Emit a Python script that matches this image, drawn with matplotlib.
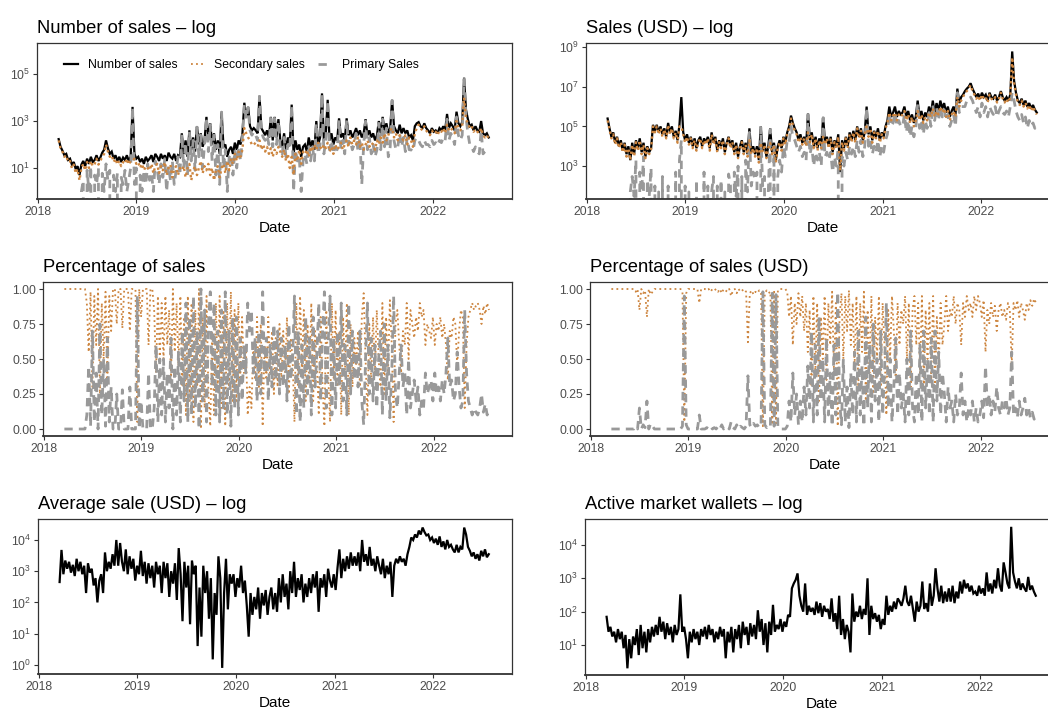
import matplotlib
matplotlib.use('Agg')
import matplotlib.pyplot as plt
import matplotlib.dates as mdates
from matplotlib.lines import Line2D
from matplotlib.ticker import FixedLocator, FuncFormatter, NullLocator
import numpy as np
import pandas as pd

# colours (ggplot-like)
BLACK = '#000000'
ORANGE = '#CD853F'
GREY = '#999999'
TICKCOL = '#4D4D4D'
EDGE = '#333333'

START = '2018-03-20'   # first weekly observation, one value per week

# ---- Number of sales (weekly readings, one row ~ one quarter) ----
n_sales = [
    170, 80, 55, 35, 40, 22, 25, 14, 18, 9, 12, 5, 14,
    20, 12, 25, 15, 30, 18, 22, 35, 20, 28, 45, 60, 150,
    70, 40, 50, 25, 35, 20, 30, 18, 28, 22, 35, 20, 30,
    4000, 40, 25, 30, 18, 25, 15, 30, 20, 25, 35, 18, 40,
    30, 20, 40, 25, 35, 20, 45, 30, 25, 40, 20, 35, 30,
    300, 40, 150, 30, 400, 60, 200, 50, 600, 100, 300, 80, 150,
    1500, 200, 800, 100, 300, 60, 150, 40, 2500, 80, 100, 30, 60,
    80, 40, 120, 60, 150, 100, 300, 6000, 1500, 4000, 600, 400, 500,
    400, 300, 12000, 500, 350, 250, 400, 200, 1500, 150, 1500, 200, 1200,
    150, 80, 300, 60, 200, 100, 5000, 40, 150, 60, 100, 30, 80,
    100, 50, 200, 80, 150, 60, 1000, 100, 200, 15000, 150, 300, 8000,
    150, 300, 100, 200, 150, 1300, 200, 300, 150, 1300, 250, 400, 200,
    300, 500, 250, 400, 200, 300, 1200, 250, 400, 200, 300, 150, 250,
    1000, 300, 1500, 400, 800, 300, 500, 8000, 600, 400, 300, 700, 300,
    500, 300, 400, 200, 250, 150, 600, 800, 900, 600, 500, 800, 500,
    400, 300, 500, 350, 400, 300, 500, 400, 600, 400, 2000, 500, 800,
    600, 400, 2500, 800, 600, 900, 70000, 3000, 1200, 600, 700, 400, 600,
    400, 350, 1000, 300, 250, 300, 200,
]
n_secondary = [
    150, 70, 50, 30, 35, 18, 20, 10, 14, 6, 9, 3, 10,
    15, 8, 18, 10, 20, 12, 15, 25, 14, 20, 30, 40, 100,
    50, 30, 35, 18, 25, 14, 20, 12, 18, 15, 25, 14, 20,
    20, 25, 15, 18, 10, 15, 8, 12, 10, 8, 15, 6, 12,
    15, 6, 12, 8, 18, 5, 10, 14, 4, 9, 12, 5, 10,
    8, 12, 4, 10, 15, 3, 8, 12, 5, 10, 20, 6, 12,
    8, 15, 5, 10, 3, 8, 12, 4, 10, 15, 6, 20, 8,
    25, 15, 40, 20, 50, 30, 60, 500, 300, 200, 150, 100, 120,
    100, 80, 150, 60, 100, 50, 80, 40, 70, 30, 60, 40, 80,
    50, 30, 60, 20, 40, 10, 30, 5, 40, 20, 60, 15, 50,
    40, 60, 30, 80, 50, 100, 60, 120, 80, 60, 100, 70, 120,
    50, 80, 40, 100, 60, 80, 120, 60, 100, 150, 80, 200, 100,
    150, 100, 200, 80, 120, 60, 100, 150, 80, 120, 100, 60, 150,
    100, 200, 120, 300, 150, 250, 400, 500, 200, 300, 150, 250, 200,
    150, 250, 100, 200, 150, 80, 300, 500, 700, 500, 400, 600, 400,
    300, 250, 400, 300, 350, 250, 400, 350, 500, 300, 700, 400, 500,
    400, 300, 1000, 500, 400, 600, 10000, 1200, 800, 500, 600, 350, 450,
    350, 300, 500, 250, 200, 250, 180,
]
n_primary = [
    0, 0, 0, 0, 0, 0, 0, 0, 0, 0, 0, 0, 1,
    3, 0, 8, 1, 12, 0, 5, 2, 10, 0, 6, 1, 15,
    3, 8, 0, 5, 1, 6, 0, 4, 2, 8, 1, 3, 10,
    4000, 2, 10, 0, 5, 1, 8, 2, 15, 3, 6, 1, 20,
    10, 2, 15, 4, 25, 1, 12, 3, 20, 2, 8, 30, 5,
    280, 10, 120, 5, 350, 20, 150, 8, 550, 30, 250, 10, 100,
    1400, 50, 700, 20, 250, 5, 100, 2, 2400, 10, 60, 1, 30,
    40, 5, 60, 10, 80, 20, 200, 5000, 1200, 3800, 400, 250, 350,
    250, 150, 11000, 350, 200, 150, 250, 100, 1300, 80, 1300, 100, 1000,
    60, 40, 200, 30, 100, 60, 4800, 1, 60, 20, 30, 1, 20,
    40, 15, 100, 20, 80, 20, 800, 40, 100, 14000, 40, 150, 7500,
    60, 150, 40, 80, 60, 1100, 60, 150, 40, 1100, 100, 150, 60,
    100, 300, 50, 200, 2, 100, 1000, 60, 200, 40, 100, 30, 60,
    800, 60, 1200, 80, 500, 30, 80, 7500, 150, 60, 80, 300, 80,
    200, 50, 200, 60, 60, 50, 150, 200, 150, 100, 80, 150, 100,
    100, 80, 150, 100, 120, 90, 150, 120, 200, 150, 1200, 150, 300,
    200, 100, 1500, 250, 150, 250, 60000, 1500, 300, 100, 80, 50, 80,
    50, 40, 400, 40, 50, 40, 35,
]

# ---- Sales in USD ----
usd_sales = [
    2.5e5, 8e4, 3e4, 5e4, 1.5e4, 3e4, 1e4, 2e4, 6e3, 1.5e4, 4e3, 1e4, 2e3,
    1.5e4, 4e3, 2e4, 8e3, 2.5e4, 5e3, 1.5e4, 3e3, 1e4, 5e3, 8e3, 1.2e5, 6e4,
    1.2e5, 5e4, 1e5, 4e4, 8e4, 3e4, 1.5e5, 5e4, 1e5, 3e4, 6e4, 2e4, 1.2e5,
    3e6, 5e4, 2e4, 4e4, 1.5e4, 3e4, 1e4, 2.5e4, 8e3, 2e4, 3e4, 1e4, 2.5e4,
    1.5e4, 3e4, 8e3, 5e4, 1.5e4, 3e4, 6e3, 2e4, 1e4, 2.5e4, 5e3, 1.5e4, 3e4,
    1e4, 2e4, 5e3, 1.5e4, 3e3, 1e4, 2e4, 5e3, 1.5e4, 4e3, 8e4, 5e3, 1e4,
    4e3, 1e4, 2e3, 1e5, 6e3, 1.5e4, 3e3, 1e4, 8e4, 5e3, 1.5e4, 2e3, 1e4,
    2e4, 8e3, 3e4, 1.5e4, 5e4, 1e5, 3.5e5, 1.5e5, 8e4, 5e4, 2e4, 4e4, 1.5e4,
    3e4, 1.2e4, 4.5e5, 2e4, 5e4, 1e4, 3e4, 8e3, 2.5e4, 1e4, 3e5, 1.5e4, 3e4,
    1e4, 3e4, 5e3, 2e4, 1e4, 4e4, 5e2, 2e4, 8e3, 3e4, 1e4, 5e4, 2e4,
    6e4, 2e4, 1e5, 3e4, 8e4, 2e4, 5e4, 1e6, 4e4, 1e5, 2e4, 6e4, 3e4,
    8e4, 2e4, 5e4, 3e4, 1e5, 2e5, 1e6, 3e5, 5e5, 1e6, 3e5, 6e5, 4e5,
    5e5, 1e6, 3e5, 6e5, 2e5, 4e5, 1.5e5, 3e5, 2e6, 3e5, 6e5, 2e5, 5e5,
    3e5, 1e6, 4e5, 2e6, 5e5, 1.5e6, 6e5, 2e6, 8e5, 1.5e6, 5e5, 1e6, 3e5,
    6e5, 1e6, 4e5, 8e6, 1.5e6, 3e6, 4e6, 6e6, 8e6, 1e7, 1.5e7, 8e6, 5e6,
    3e6, 4.5e6, 2.5e6, 5e6, 3e6, 4e6, 2e6, 5e6, 3e6, 2.5e6, 4e6, 2e6, 3e6,
    6e6, 3e6, 2e6, 3e6, 2e6, 4e6, 6e8, 2e7, 5e6, 2e6, 1.5e6, 2.5e6, 1.2e6,
    2e6, 1e6, 1.5e6, 8e5, 1.2e6, 7e5, 5e5,
]
usd_secondary = [
    2e5, 7e4, 2.5e4, 4e4, 1.2e4, 2.5e4, 8e3, 1.6e4, 5e3, 1.2e4, 3e3, 8e3, 2e3,
    1.2e4, 3e3, 1.6e4, 6e3, 2e4, 4e3, 1.2e4, 2.5e3, 8e3, 4e3, 7e3, 1e5, 5e4,
    1e5, 4e4, 8e4, 3e4, 7e4, 2.5e4, 1.2e5, 4e4, 8e4, 2.5e4, 5e4, 1.5e4, 1e5,
    1e5, 4e4, 1.5e4, 3e4, 1.2e4, 2.5e4, 8e3, 2e4, 6e3, 1.6e4, 2.5e4, 8e3, 2e4,
    1.2e4, 2.5e4, 6e3, 4e4, 1.2e4, 2.5e4, 5e3, 1.6e4, 8e3, 2e4, 4e3, 1.2e4, 2.5e4,
    8e3, 1.6e4, 4e3, 1.2e4, 2.5e3, 8e3, 1.6e4, 4e3, 1.2e4, 3e3, 2e4, 4e3, 8e3,
    3e3, 8e3, 1.5e3, 1.5e4, 5e3, 1.2e4, 2.5e3, 8e3, 1.5e4, 4e3, 1.2e4, 1.5e3, 8e3,
    1.6e4, 6e3, 2.5e4, 1.2e4, 4e4, 8e4, 2.5e5, 1.2e5, 6e4, 4e4, 1.5e4, 3e4, 1.2e4,
    2.5e4, 1e4, 5e4, 1.6e4, 4e4, 8e3, 2.5e4, 6e3, 2e4, 8e3, 3e4, 1.2e4, 2.5e4,
    8e3, 2.5e4, 4e3, 1.6e4, 8e3, 3e4, 6e2, 1.6e4, 6e3, 2.5e4, 8e3, 4e4, 1.6e4,
    5e4, 1.5e4, 8e4, 2.5e4, 6e4, 1.5e4, 4e4, 1e5, 3e4, 8e4, 1.5e4, 5e4, 2.5e4,
    6e4, 1.5e4, 4e4, 2.5e4, 8e4, 1.5e5, 5e5, 2e5, 3.5e5, 5e5, 2e5, 4e5, 3e5,
    4e5, 6e5, 2e5, 4e5, 1.5e5, 3e5, 1e5, 2e5, 6e5, 2e5, 4e5, 1.5e5, 3e5,
    2e5, 5e5, 3e5, 8e5, 3e5, 6e5, 4e5, 1e6, 5e5, 8e5, 3e5, 6e5, 2e5,
    4e5, 6e5, 3e5, 3e6, 1e6, 2e6, 3e6, 5e6, 6e6, 8e6, 1.2e7, 6e6, 4e6,
    2.5e6, 3.5e6, 2e6, 4e6, 2.5e6, 3e6, 1.6e6, 4e6, 2.5e6, 2e6, 3e6, 1.6e6, 2.5e6,
    5e6, 2.5e6, 1.6e6, 2.5e6, 1.6e6, 3e6, 3e8, 1.5e7, 4e6, 1.6e6, 1.2e6, 2e6, 1e6,
    1.6e6, 8e5, 1.2e6, 6e5, 1e6, 6e5, 4e5,
]
usd_primary = [
    0, 0, 0, 0, 0, 0, 0, 0, 0, 0, 0, 0, 50,
    300, 30, 2000, 0, 500, 50, 3000, 0, 200, 30, 800, 0, 100,
    0, 50, 0, 300, 0, 0, 100, 0, 30, 0, 500, 0, 2000,
    2e4, 0, 100, 0, 50, 0, 0, 0, 200, 0, 30, 0, 500,
    0, 100, 0, 50, 300, 0, 100, 0, 200, 0, 50, 0, 400,
    100, 0, 500, 30, 1000, 0, 300, 0, 2000, 50, 5e4, 100, 500,
    200, 500, 0, 9e4, 100, 300, 0, 50, 7e4, 0, 1e4, 0, 300,
    2e3, 500, 1e4, 3e3, 2e4, 1.5e4, 1e5, 3e4, 2e4, 1e4, 5e3, 1e4, 3e3,
    5e3, 2e3, 4e5, 4e3, 1e4, 1e3, 5e3, 2e3, 5e3, 1e3, 2.7e5, 3e3, 5e3,
    2e3, 5e3, 500, 3e3, 1e3, 8e3, 0, 3e3, 1e3, 5e3, 2e3, 1e4, 4e3,
    1e4, 3e3, 2e4, 5e3, 2e4, 3e3, 1e4, 9e5, 1e4, 2e4, 4e3, 1e4, 5e3,
    2e4, 3e3, 1e4, 5e3, 2e4, 4e4, 5e5, 1e5, 1.5e5, 5e5, 1e5, 2e5, 1e5,
    1e5, 4e5, 5e4, 2e5, 3e4, 1e5, 3e4, 8e4, 1.4e6, 8e4, 2e5, 4e4, 2e5,
    8e4, 5e5, 1e5, 1.2e6, 2e5, 9e5, 2e5, 1e6, 3e5, 7e5, 2e5, 4e5, 1e5,
    2e5, 4e5, 1e5, 5e6, 5e5, 1e6, 1e6, 1e6, 2e6, 2e6, 3e6, 2e6, 1e6,
    5e5, 1e6, 3e5, 1.5e6, 5e5, 1e6, 3e5, 1e6, 6e5, 4e5, 1e6, 3e5, 6e5,
    1e6, 5e5, 4e5, 6e5, 3e5, 1e6, 5e6, 2e6, 6e5, 3e5, 2e5, 4e5, 1.5e5,
    3e5, 8e4, 2e5, 1e5, 1.5e5, 8e4, 1e5,
]

# ---- Share of secondary sales (count and USD) ----
share_secondary = [
    1, 1, 1, 1, 1, 1, 1, 1, 1, 1, 1, 1, 0.9,
    0.55, 0.98, 0.3, 0.95, 0.6, 1.0, 0.25, 0.9, 0.5, 0.98, 0.35, 0.95, 0.7,
    1, 1, 0.75, 1, 1, 0.72, 1, 1, 1, 0.7, 1, 1, 1,
    0.05, 1, 0.8, 1, 1, 1, 0.6, 1, 1, 0.85, 0.4, 0.95, 0.5,
    0.9, 0.5, 0.95, 0.6, 0.85, 0.35, 1.0, 0.55, 0.9, 0.45, 0.95, 0.3, 0.8,
    0.1, 0.95, 0.2, 0.9, 0.05, 0.85, 0.3, 1.0, 0.0, 0.8, 0.15, 0.95, 0.25,
    0.02, 0.7, 0.1, 0.9, 0.3, 0.95, 0.15, 0.85, 0.02, 0.9, 0.3, 0.98, 0.2,
    0.85, 0.2, 0.9, 0.35, 0.8, 0.4, 0.6, 0.1, 0.3, 0.15, 0.6, 0.35, 0.8,
    0.3, 0.75, 0.02, 0.6, 0.35, 0.8, 0.4, 0.7, 0.25, 0.65, 0.3, 0.75, 0.35,
    0.7, 0.4, 0.8, 0.25, 0.65, 0.5, 0.05, 0.9, 0.3, 0.95, 0.4, 0.85, 0.2,
    0.75, 0.35, 0.9, 0.2, 0.7, 0.45, 0.1, 0.8, 0.3, 0.02, 0.85, 0.4, 0.05,
    0.9, 0.35, 0.85, 0.3, 0.7, 0.1, 0.8, 0.4, 0.9, 0.1, 0.75, 0.3, 0.65,
    0.45, 0.7, 0.3, 0.8, 0.97, 0.5, 0.1, 0.75, 0.35, 0.8, 0.4, 0.85, 0.5,
    0.3, 0.9, 0.25, 0.8, 0.4, 0.92, 0.6, 0.05, 0.75, 0.85, 0.6, 0.4, 0.7,
    0.6, 0.9, 0.5, 0.85, 0.75, 0.65, 0.8, 0.7, 0.9, 0.8, 0.85, 0.6, 0.75,
    0.7, 0.65, 0.8, 0.6, 0.75, 0.7, 0.8, 0.65, 0.75, 0.6, 0.35, 0.7, 0.65,
    0.8, 0.75, 0.45, 0.7, 0.85, 0.8, 0.15, 0.6, 0.8, 0.85, 0.9, 0.85, 0.88,
    0.9, 0.85, 0.75, 0.88, 0.82, 0.9, 0.85,
]
share_usd_secondary = [
    1, 1, 1, 1, 1, 1, 1, 1, 1, 1, 1, 1, 1,
    0.98, 1, 0.85, 1, 0.97, 0.99, 0.8, 1, 0.96, 0.98, 1, 1, 1,
    1, 1, 1, 1, 1, 1, 1, 1, 1, 1, 1, 1, 0.98,
    0.05, 0.97, 1, 1, 1, 1, 1, 1, 0.9, 1, 1, 1, 0.99,
    1, 0.98, 1, 0.99, 1, 0.98, 1, 0.97, 1, 0.99, 0.98, 1, 0.95,
    0.99, 1, 0.97, 1, 0.98, 0.99, 1, 0.98, 0.62, 0.97, 0.99, 0.96, 0.98,
    0.97, 0.99, 0.98, 0.02, 0.97, 0.99, 0.97, 0.98, 0.03, 0.98, 0.04, 0.99, 1,
    1, 1, 1, 0.98, 0.8, 0.95, 0.6, 0.9, 0.75, 0.97, 0.8, 0.95, 0.7,
    0.9, 0.55, 0.85, 0.3, 0.95, 0.4, 0.9, 0.2, 0.8, 0.5, 0.95, 0.35, 0.9,
    0.6, 0.98, 0.4, 0.9, 0.02, 0.8, 0.97, 0.5, 0.95, 0.7, 0.99, 0.6, 0.9,
    0.45, 0.95, 0.3, 0.9, 0.55, 0.98, 0.2, 0.85, 0.4, 0.95, 0.25, 0.8, 0.5,
    0.95, 0.3, 0.9, 0.6, 0.1, 0.85, 0.5, 0.95, 0.7, 0.35, 0.9, 0.6, 0.85,
    0.75, 0.95, 0.5, 0.9, 0.3, 0.85, 0.95, 0.6, 0.9, 0.4, 0.95, 0.3, 0.85,
    0.5, 0.9, 0.35, 0.95, 0.3, 0.8, 0.45, 0.9, 0.6, 0.75, 0.95, 0.7, 0.85,
    0.8, 0.95, 0.75, 0.9, 0.85, 0.6, 0.9, 0.8, 0.95, 0.85, 0.9, 0.8, 0.95,
    0.85, 0.95, 0.9, 0.8, 0.92, 0.55, 0.85, 0.75, 0.9, 0.8, 0.88, 0.7, 0.85,
    0.9, 0.8, 0.85, 0.78, 0.9, 0.85, 0.45, 0.9, 0.85, 0.92, 0.8, 0.9, 0.85,
    0.78, 0.9, 0.85, 0.92, 0.88, 0.93, 0.9,
]

# ---- Average sale (USD) ----
avg_sale = [
    450, 4800, 800, 2200, 1200, 2000, 900, 1600, 700, 2500, 1000, 2000, 800,
    1500, 200, 1800, 900, 1200, 350, 600, 100, 500, 800, 200, 4000, 1000,
    2000, 1200, 3500, 1500, 10000, 1500, 8000, 2000, 1000, 5000, 800, 3000, 1200,
    2500, 500, 1500, 800, 4500, 700, 2000, 400, 1800, 600, 1500, 300, 2000,
    800, 1500, 200, 2000, 600, 1800, 150, 1000, 400, 1800, 120, 5500, 800,
    25, 2000, 300, 1500, 20, 2200, 800, 1500, 4, 300, 8, 1500, 200,
    1000, 30, 600, 1.5, 200, 40, 3000, 600, 0.8, 200, 2500, 60, 800,
    400, 800, 150, 600, 300, 1500, 200, 500, 80, 8, 200, 40, 150,
    60, 300, 30, 200, 80, 250, 40, 150, 300, 60, 200, 50, 600,
    100, 800, 150, 400, 60, 1000, 200, 2000, 150, 600, 250, 800, 100,
    400, 150, 600, 200, 800, 300, 1000, 50, 600, 300, 800, 150, 1200,
    500, 300, 800, 250, 1300, 5000, 600, 2500, 1000, 3000, 1200, 4000, 1500,
    3000, 1500, 4000, 1000, 10000, 2000, 3500, 1500, 6000, 1500, 2500, 1000, 3000,
    1500, 800, 2500, 600, 1500, 800, 2000, 150, 1500, 2500, 1800, 3000, 2000,
    2500, 1500, 3500, 6000, 12000, 10000, 15000, 12000, 20000, 15000, 25000, 18000, 14000,
    15000, 10000, 12000, 8000, 11000, 7000, 13000, 6000, 9000, 5000, 10000, 6000, 7000,
    5000, 4000, 7000, 4000, 6000, 5000, 25000, 15000, 6000, 4500, 3000, 4000, 2500,
    3500, 2200, 4500, 3000, 5000, 2800, 3500,
]

# ---- Active market wallets ----
wallets = [
    70, 25, 35, 18, 25, 12, 30, 15, 25, 8, 20, 2, 15,
    4, 18, 10, 30, 5, 40, 8, 25, 6, 30, 12, 35, 18,
    40, 20, 70, 25, 50, 15, 45, 20, 35, 12, 40, 20, 30,
    330, 25, 35, 15, 4, 25, 12, 30, 15, 25, 10, 30, 18,
    35, 15, 40, 20, 30, 12, 25, 15, 35, 18, 30, 4, 25,
    12, 35, 6, 30, 15, 40, 8, 50, 20, 35, 10, 45, 18,
    40, 15, 110, 25, 60, 10, 45, 6, 50, 20, 160, 25, 40,
    30, 60, 25, 50, 35, 80, 70, 500, 700, 900, 1400, 300, 150,
    100, 700, 80, 150, 100, 130, 80, 200, 90, 180, 70, 150, 100,
    120, 60, 250, 50, 90, 30, 300, 20, 60, 15, 40, 25, 6,
    350, 50, 100, 70, 150, 60, 120, 80, 1000, 20, 150, 60, 90,
    50, 80, 30, 60, 40, 300, 80, 150, 100, 200, 120, 250, 200,
    150, 250, 600, 200, 150, 300, 120, 50, 200, 100, 150, 800, 120,
    180, 100, 700, 150, 300, 2000, 500, 200, 600, 180, 400, 200, 500,
    200, 600, 180, 400, 250, 800, 350, 900, 500, 700, 400, 600, 350,
    400, 300, 600, 350, 500, 300, 1500, 400, 700, 350, 900, 500, 2000,
    600, 400, 3000, 1500, 700, 500, 35000, 1500, 800, 500, 1000, 450, 700,
    500, 400, 1100, 450, 600, 400, 300,
]

plt.rcParams.update({
    'font.family': 'Liberation Sans',
    'mathtext.fontset': 'custom',
    'mathtext.rm': 'Liberation Sans',
    'mathtext.it': 'Liberation Sans:italic',
    'mathtext.bf': 'Liberation Sans:bold',
    'axes.linewidth': 0.9,
    'axes.edgecolor': EDGE,
    'xtick.color': EDGE,
    'ytick.color': EDGE,
    'xtick.labelcolor': TICKCOL,
    'ytick.labelcolor': TICKCOL,
    'xtick.labelsize': 8.8,
    'ytick.labelsize': 8.8,
    'xtick.major.size': 2.75,
    'ytick.major.size': 2.75,
    'xtick.major.pad': 2.2,
    'ytick.major.pad': 2.2,
})

W, H = 1048, 711
XLIM = (pd.Timestamp('2017-12-30'), pd.Timestamp('2022-10-20'))

LS_SOLID = dict(color=BLACK, lw=1.6, solid_joinstyle='miter')
LS_DOT = dict(color=ORANGE, lw=1.3, ls=(0, (1, 1.8)))
LS_DOT_BIG = dict(color=ORANGE, lw=1.7, ls=(0, (1, 1.4)))
LS_DASH = dict(color=GREY, lw=2.0, ls=(0, (3, 2.2)))


def weekly(vals):
    return pd.date_range(START, periods=len(vals), freq='7D')


def log_fmt(v, _):
    return r'$10^{%d}$' % round(np.log10(v))


def panel(box, title, ylog_ticks=None, ylim=None):
    x0, y0, x1, y1 = box
    ax = fig.add_axes([x0 / W, 1 - y1 / H, (x1 - x0) / W, (y1 - y0) / H])
    ax.set_title(title, loc='left', fontsize=13.2, pad=7)
    ax.set_xlim(*XLIM)
    ax.xaxis.set_major_locator(mdates.YearLocator())
    ax.xaxis.set_major_formatter(mdates.DateFormatter('%Y'))
    ax.set_xlabel('Date', fontsize=11, labelpad=2.5)
    if ylog_ticks is not None:
        ax.set_yscale('log')
        ax.yaxis.set_major_locator(FixedLocator(ylog_ticks))
        ax.yaxis.set_major_formatter(FuncFormatter(log_fmt))
        ax.yaxis.set_minor_locator(NullLocator())
    ax.set_ylim(*ylim)
    ax.spines['bottom'].set_linewidth(1.3)
    return ax


fig = plt.figure(figsize=(W / 100, H / 100), dpi=100)

# Number of sales
ax = panel((37, 43, 512, 199), 'Number of sales \u2013 log', [10, 1e3, 1e5], (0.48, 2.1e6))
ax.plot(weekly(n_sales), n_sales, **LS_SOLID)
ax.plot(weekly(n_primary), n_primary, **LS_DASH)
ax.plot(weekly(n_secondary), n_secondary, **LS_DOT_BIG)
handles = [Line2D([], [], **LS_SOLID), Line2D([], [], **LS_DOT), Line2D([], [], **LS_DASH)]
ax.legend(handles, ['Number of sales', 'Secondary sales', 'Primary Sales'],
          loc='center left', bbox_to_anchor=(0.045, 0.86), ncol=3, frameon=False,
          fontsize=8.8, handlelength=1.1, handletextpad=0.8, columnspacing=1.1,
          borderpad=0)

# Sales USD
ax = panel((586, 43, 1060, 199), 'Sales (USD) \u2013 log', [1e3, 1e5, 1e7, 1e9], (22, 1.6e9))
ax.plot(weekly(usd_sales), usd_sales, **LS_SOLID)
ax.plot(weekly(usd_primary), usd_primary, **LS_DASH)
ax.plot(weekly(usd_secondary), usd_secondary, **LS_DOT_BIG)

# Percentage of sales
pct_ticks = [0, 0.25, 0.5, 0.75, 1.0]
ax = panel((43, 282, 512, 436), 'Percentage of sales', ylim=(-0.05, 1.05))
ax.set_yticks(pct_ticks)
ax.yaxis.set_major_formatter(FuncFormatter(lambda v, _: '%.2f' % v))
share = np.array(share_secondary)
ax.plot(weekly(share), share, **LS_DOT)
ax.plot(weekly(share), 1 - share, **LS_DASH)

ax = panel((590, 282, 1059, 436), 'Percentage of sales (USD)', ylim=(-0.05, 1.05))
ax.set_yticks(pct_ticks)
ax.yaxis.set_major_formatter(FuncFormatter(lambda v, _: '%.2f' % v))
share_u = np.array(share_usd_secondary)
ax.plot(weekly(share_u), share_u, **LS_DOT)
ax.plot(weekly(share_u), 1 - share_u, **LS_DASH)

# Average sale
ax = panel((38, 519, 512, 674), 'Average sale (USD) \u2013 log', [1, 10, 1e2, 1e3, 1e4], (0.51, 4.7e4))
ax.plot(weekly(avg_sale), avg_sale, **LS_SOLID)

# Active wallets
ax = panel((585, 519, 1059, 675), 'Active market wallets \u2013 log', [10, 1e2, 1e3, 1e4], (1.26, 6e4))
ax.plot(weekly(wallets), wallets, **LS_SOLID)

fig.savefig('out.png', dpi=100)
